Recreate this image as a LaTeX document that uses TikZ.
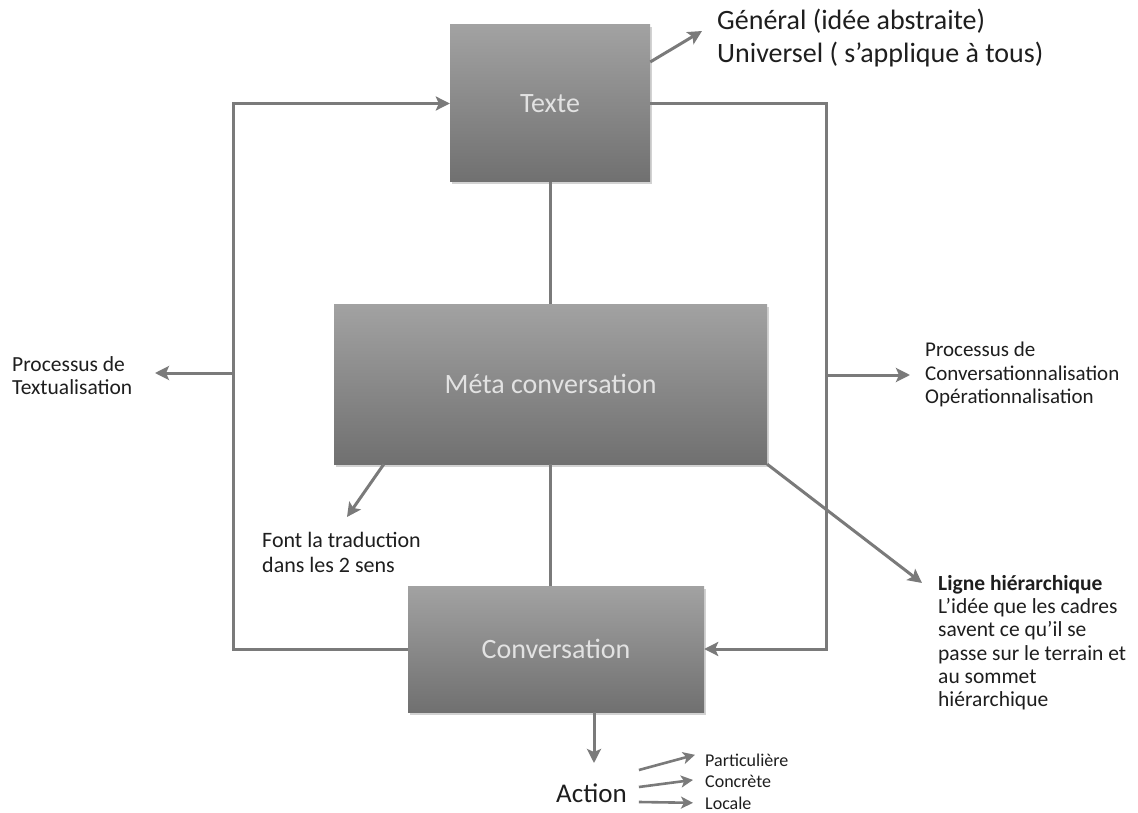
\documentclass[tikz,border=0pt]{standalone}
\usepackage{fontspec}
\setmainfont{Carlito}
\usetikzlibrary{arrows.meta,shadows}

\definecolor{boxtop}{RGB}{162,162,162}
\definecolor{boxbot}{RGB}{112,112,112}
\definecolor{boxtxt}{RGB}{226,226,226}
\definecolor{lnk}{RGB}{122,122,122}
\definecolor{ink}{RGB}{30,30,30}

\newcommand{\fsz}[2]{\fontsize{#1}{#2}\selectfont}

\tikzset{
	box/.style={draw=none, top color=boxtop, bottom color=boxbot, text=boxtxt,
		font=\fsz{28}{33}, drop shadow={shadow xshift=1.5pt, shadow yshift=-2.5pt, opacity=0.35}},
	link/.style={draw=lnk, line width=3pt},
	arr/.style={link, -{Stealth[length=14pt, width=14pt, inset=3pt]}},
	sarr/.style={link, line width=2.6pt, -{Stealth[length=12pt, width=12pt, inset=3pt]}},
	note/.style={align=left, anchor=north west, inner sep=0pt, text=ink}
}

\begin{document}
\begin{tikzpicture}[x=1pt, y=-1pt]
	\useasboundingbox (0,0) rectangle (1138,813);
	\fill[white] (0,0) rectangle (1138,813);

	\node[box, minimum width=200pt, minimum height=157pt] (texte) at (550,103.5) {Texte};
	\node[box, minimum width=433pt, minimum height=160pt] (meta) at (550.5,384) {Méta conversation};
	\node[box, minimum width=296pt, minimum height=126pt] (conv) at (556,649) {Conversation};

	\node[note, font=\fsz{28}{33}] (gen) at (717,9) {Général (idée abstraite)\\Universel ( s’applique à tous)};
	\node[note, font=\fsz{21.5}{23}] (textu) at (12,356) {Processus de\\Textualisation};
	\node[note, font=\fsz{21}{23.5}] (convers) at (925,342) {Processus de\\Conversationnalisation\\Opérationnalisation};
	\node[note, font=\fsz{22}{25}] (trad) at (262,532) {Font la traduction\\dans les 2 sens};
	\node[note, font=\fsz{21.5}{23.3}] (ligne) at (938,575) {\textbf{Ligne hiérarchique}\\L’idée que les cadres\\savent ce qu’il se\\passe sur le terrain et\\au sommet\\hiérarchique};
	\node[anchor=base west, inner sep=0pt, text=ink, font=\fsz{27}{30}] (action) at (556,802) {Action};
	\node[anchor=base west, inner sep=0pt, text=ink, font=\fsz{18}{20}] (part) at (705,766) {Particulière};
	\node[anchor=base west, inner sep=0pt, text=ink, font=\fsz{18}{20}] (conc) at (705,787) {Concrète};
	\node[anchor=base west, inner sep=0pt, text=ink, font=\fsz{18}{20}] (loc) at (705,809) {Locale};

	\coordinate (lj) at (234,373);
	\coordinate (rj) at (826,375);
	\coordinate (ltip) at (155,373);
	\coordinate (rtip) at (910,375);
	\coordinate (gtip) at (702,31);
	\coordinate (ttip) at (347,517);
	\coordinate (ntip) at (922,583);
	\coordinate (atip) at (594,763);

	\draw[link] (texte.south) -- (texte.south |- meta.north);
	\draw[link] (meta.south) -- (meta.south |- conv.north);
	\draw[arr] (conv.west) -- ++(-174,0) |- (texte.west);
	\draw[arr] (texte.east) -- ++(176,0) |- (conv.east);
	\draw[arr] (lj) -- (ltip);
	\draw[arr] (rj) -- (rtip);
	\draw[arr] ([yshift=41.5pt]texte.east) -- (gtip);
	\draw[arr] ([xshift=50pt]meta.south west) -- (ttip);
	\draw[arr] (meta.south east) -- (ntip);
	\draw[arr] ([xshift=38pt]conv.south) -- (atip);
	\draw[sarr] ([xshift=12pt,yshift=32pt]action.base east) -- ([xshift=-10pt,yshift=5pt]part.west);
	\draw[sarr] ([xshift=12pt,yshift=15pt]action.base east) -- ([xshift=-12pt,yshift=1pt]conc.west);
	\draw[sarr] ([xshift=12pt]action.base east) -- ([xshift=-12pt]loc.west);
\end{tikzpicture}
\end{document}
